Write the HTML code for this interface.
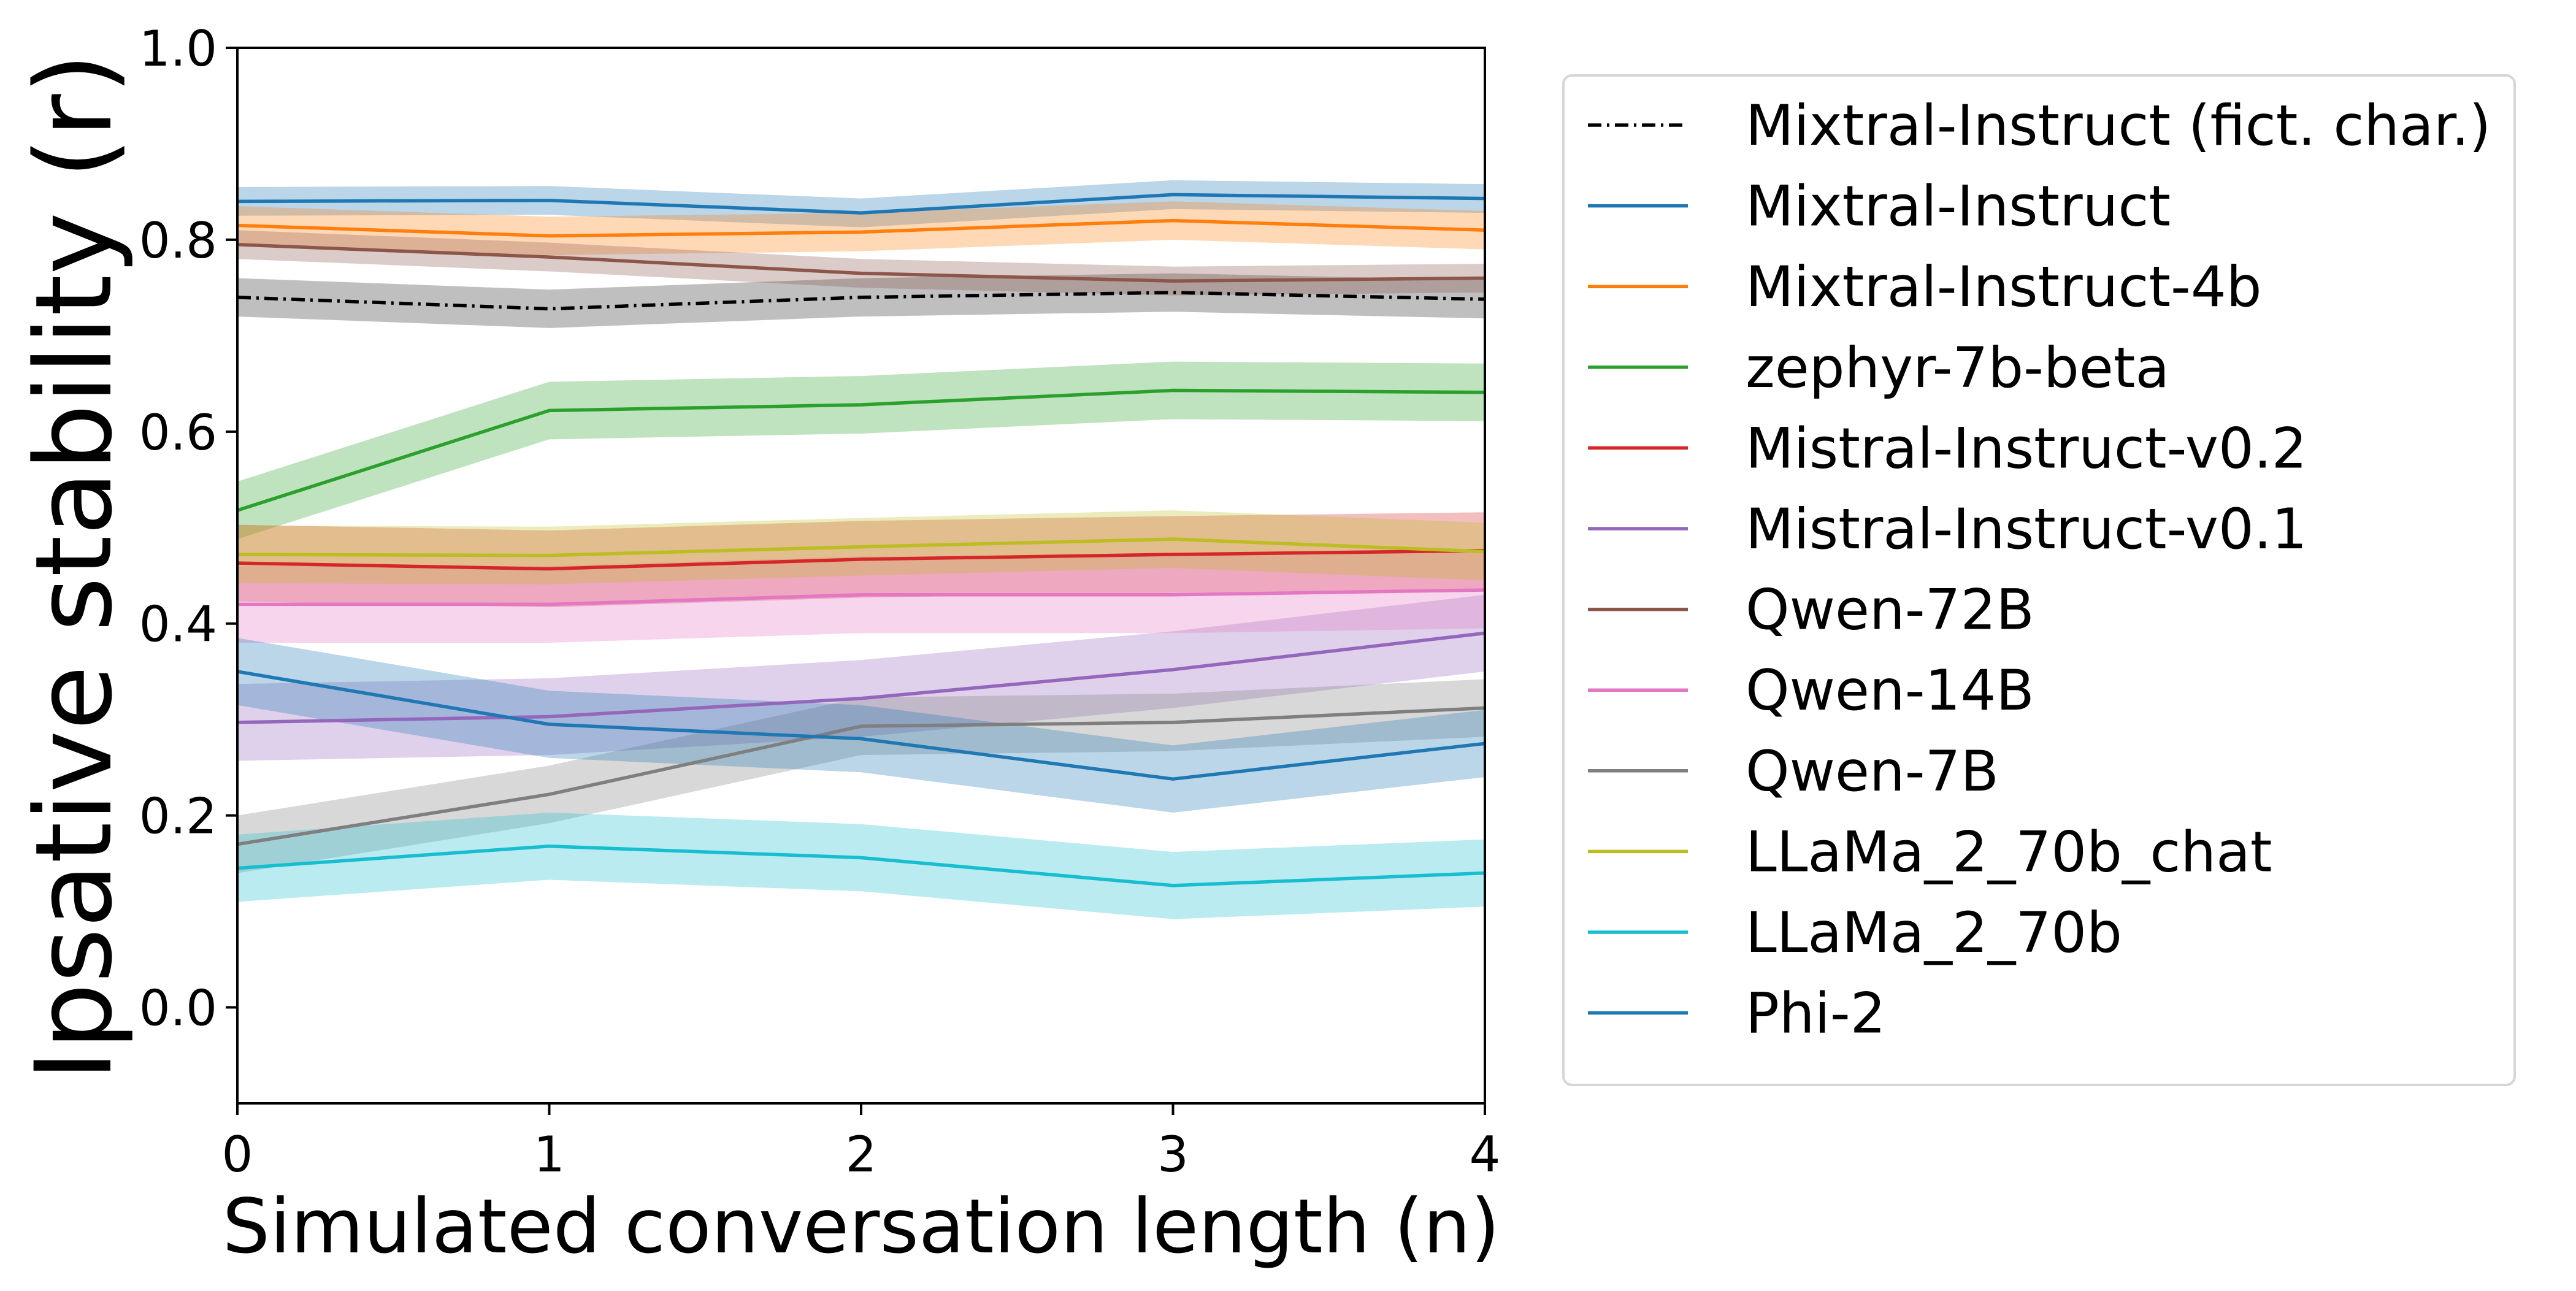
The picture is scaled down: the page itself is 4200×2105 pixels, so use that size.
<!DOCTYPE html>
<html><head><meta charset="utf-8"><style>
body{margin:0;background:#fff;}
svg text{font-family:"DejaVu Sans","Liberation Sans",sans-serif;}
</style></head><body>
<svg id="chart" width="4200" height="2100" viewBox="0 0 4200 2100" xmlns="http://www.w3.org/2000/svg">
<rect width="4200" height="2100" fill="#fff"/>
<g id="bands"></g>
<g id="lines"></g>
<g id="axes"></g>
<g id="legend"></g>
</svg>
<script>
const xCategories = [0, 1, 2, 3, 4];
const yTicks = [0.0, 0.2, 0.4, 0.6, 0.8, 1.0];
const yTickLabels = ["0.0", "0.2", "0.4", "0.6", "0.8", "1.0"];
const seriesNames = ["Mixtral-Instruct (fict. char.)","Mixtral-Instruct","Mixtral-Instruct-4b","zephyr-7b-beta","Mistral-Instruct-v0.2","Mistral-Instruct-v0.1","Qwen-72B","Qwen-14B","Qwen-7B","LLaMa_2_70b_chat","LLaMa_2_70b","Phi-2"];
const seriesColors = ["#000000","#1f77b4","#ff7f0e","#2ca02c","#d62728","#9467bd","#8c564b","#e377c2","#7f7f7f","#bcbd22","#17becf","#1f77b4"];
const bandColors = ["#000000","#1f77b4","#ff7f0e","#2ca02c","#d62728","#9467bd","#8c564b","#e377c2","#7f7f7f","#bcbd22","#17becf","#1f77b4"];
const vFict = [0.740, 0.728, 0.740, 0.745, 0.738];
const vMixtral = [0.840, 0.841, 0.828, 0.847, 0.843];
const vMixtral4b = [0.815, 0.804, 0.808, 0.820, 0.810];
const vZephyr = [0.518, 0.622, 0.628, 0.643, 0.641];
const vMistral02 = [0.463, 0.457, 0.467, 0.472, 0.476];
const vMistral01 = [0.297, 0.303, 0.322, 0.352, 0.390];
const vQwen72 = [0.795, 0.782, 0.765, 0.757, 0.760];
const vQwen14 = [0.420, 0.420, 0.430, 0.430, 0.435];
const vQwen7 = [0.170, 0.222, 0.293, 0.297, 0.312];
const vLlamaChat = [0.472, 0.471, 0.480, 0.488, 0.475];
const vLlama = [0.145, 0.168, 0.156, 0.127, 0.140];
const vPhi2 = [0.350, 0.295, 0.280, 0.238, 0.275];
const seriesValues = [vFict,vMixtral,vMixtral4b,vZephyr,vMistral02,vMistral01,vQwen72,vQwen14,vQwen7,vLlamaChat,vLlama,vPhi2];
const bandHalfWidth = [0.020,0.015,0.020,0.030,0.040,0.040,0.015,0.040,0.030,0.030,0.035,0.035];

const NS="http://www.w3.org/2000/svg";
const L=387,R=2421,T=78,B=1799;
const yMin=-0.1,yMax=1.0;
const xs=v=>L+(v-0)/(4-0)*(R-L);
const ys=v=>B-(v-yMin)/(yMax-yMin)*(B-T);
function mk(tag,attrs,parent){const e=document.createElementNS(NS,tag);for(const k in attrs)e.setAttribute(k,attrs[k]);parent.appendChild(e);return e;}
const bands=document.getElementById('bands'),lines=document.getElementById('lines'),axes=document.getElementById('axes'),legend=document.getElementById('legend');

const defs=mk('defs',{},document.getElementById('chart'));
const cp=mk('clipPath',{id:'plotclip'},defs);mk('rect',{x:L,y:T,width:R-L,height:B-T},cp);
bands.setAttribute('clip-path','url(#plotclip)');lines.setAttribute('clip-path','url(#plotclip)');

seriesValues.forEach((vals,i)=>{
  const h=bandHalfWidth[i];
  let up=vals.map((v,j)=>xs(xCategories[j])+','+ys(v+h));
  let dn=vals.map((v,j)=>xs(xCategories[j])+','+ys(v-h)).reverse();
  const p=mk('polygon',{points:up.concat(dn).join(' '),fill:bandColors[i],'fill-opacity':i===0?0.25:0.3},bands);
  
  
});
seriesValues.forEach((vals,i)=>{
  const pts=vals.map((v,j)=>xs(xCategories[j])+','+ys(v)).join(' ');
  const a={points:pts,fill:'none',stroke:seriesColors[i],'stroke-width':5.5,'stroke-linejoin':'round'};
  if(i===0)a['stroke-dasharray']='22,9,4,9';
  const p=mk('polyline',a,lines);
  
  
});

const fr=mk('rect',{x:L,y:T,width:R-L,height:B-T,fill:'none',stroke:'#000','stroke-width':4},axes);


xCategories.forEach(c=>{
  mk('line',{x1:xs(c),x2:xs(c),y1:B,y2:B+19,stroke:'#000','stroke-width':4},axes);
  const t=mk('text',{x:xs(c),y:1910,'font-size':80,'text-anchor':'middle'},axes);t.textContent=String(c);
  
  
});
yTicks.forEach((v,i)=>{
  mk('line',{x1:L-19,x2:L,y1:ys(v),y2:ys(v),stroke:'#000','stroke-width':4},axes);
  const t=mk('text',{x:354,y:ys(v)+29,'font-size':80,'text-anchor':'end'},axes);t.textContent=yTickLabels[i];
  
  
});
const xl=mk('text',{x:1404,y:2042,'font-size':122,'text-anchor':'middle'},axes);xl.textContent='Simulated conversation length (n)';


const yl=mk('text',{x:0,y:0,'font-size':172,'text-anchor':'middle',transform:'translate(180,'+((T+B)/2-14)+') rotate(-90)'},axes);yl.textContent='Ipsative stability (r)';



const lb=mk('rect',{x:2549,y:123,width:1551,height:1646,rx:14,fill:'#fff',stroke:'#d6d6d6','stroke-width':4},legend);


seriesNames.forEach((n,i)=>{
  const y=204+i*131.6;
  const g=mk('g',{},legend);
  
  
  const a={x1:2589,x2:2752,y1:y,y2:y,stroke:seriesColors[i],'stroke-width':5.5};
  if(i===0)a['stroke-dasharray']='22,9,4,9';
  mk('line',a,g);
  const t=mk('text',{x:2846,y:y+32,'font-size':91},g);t.textContent=n;
});
</script>
</body></html>
